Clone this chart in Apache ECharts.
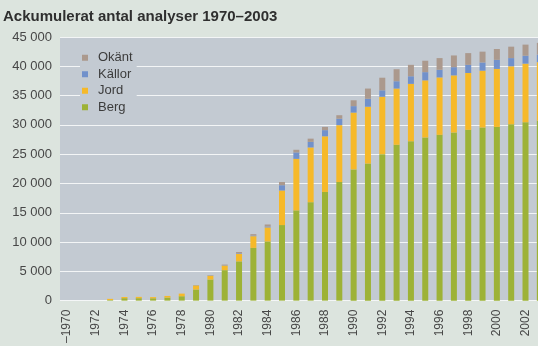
<!DOCTYPE html>
<html>
<head>
<meta charset="utf-8">
<script src="https://cdn.jsdelivr.net/npm/echarts@6/dist/echarts.min.js"></script>
<style>
  html, body { margin: 0; padding: 0; background: #dce4de; overflow: hidden; }
  #chart { width: 560px; height: 346px; }
</style>
</head>
<body>
<div id="chart"></div>
<script>
// Cumulative number of analyses per year, split by sample type
const years = ['–1970', '1971', '1972', '1973', '1974', '1975', '1976', '1977', '1978', '1979',
  '1980', '1981', '1982', '1983', '1984', '1985', '1986', '1987', '1988', '1989',
  '1990', '1991', '1992', '1993', '1994', '1995', '1996', '1997', '1998', '1999',
  '2000', '2001', '2002', '2003'];

const berg = [0, 0, 0, 100, 420, 420, 400, 520, 750, 1900,
  3600, 5200, 6700, 9000, 10100, 12900, 15400, 16800, 18550, 20250,
  22400, 23400, 25000, 26600, 27200, 27850, 28300, 28700, 29150, 29550,
  29650, 30100, 30450, 30700];

const jord = [0, 0, 0, 200, 200, 220, 200, 280, 450, 700,
  650, 800, 1300, 2000, 2400, 5900, 8800, 9350, 9500, 9700,
  9700, 9700, 9800, 9600, 9800, 9750, 9800, 9750, 9700, 9700,
  9900, 9900, 10000, 10000];

const kallor = [0, 0, 0, 0, 0, 0, 0, 0, 0, 30,
  50, 60, 100, 100, 150, 900, 1100, 950, 1050, 1100,
  1100, 1350, 1100, 1250, 1300, 1400, 1300, 1400, 1400, 1400,
  1550, 1400, 1350, 1300];

const okant = [0, 0, 0, 0, 0, 0, 0, 0, 0, 30,
  50, 90, 200, 250, 350, 550, 450, 550, 550, 600,
  1000, 1750, 2150, 2050, 1950, 1950, 2000, 2000, 2000, 1850,
  1850, 1950, 1900, 2000];

const yTicks = { min: 0, max: 45000, interval: 5000 };

const colors = { berg: '#9db236', jord: '#f6b929', kallor: '#7191cb', okant: '#ab998d' };

const chart = echarts.init(document.getElementById('chart'), null, { renderer: 'canvas' });

function stackSeries(name, data, color) {
  return {
    name: name,
    type: 'bar',
    stack: 'total',
    data: data,
    barWidth: 6,
    itemStyle: { color: color },
    emphasis: { disabled: true }
  };
}

chart.setOption({
  backgroundColor: '#dce4de',
  animation: false,
  textStyle: { fontFamily: 'Liberation Sans, Arial, sans-serif' },
  title: {
    text: 'Ackumulerat antal analyser 1970–2003',
    left: 3,
    top: 9,
    padding: 0,
    textStyle: { fontSize: 15, fontWeight: 'bold', color: '#2f2f2f', fontFamily: 'Liberation Sans, Arial, sans-serif' }
  },
  legend: {
    orient: 'vertical',
    left: 80,
    top: 49,
    padding: [2, 4, 2, 2],
    backgroundColor: '#c3cad2',
    itemWidth: 6,
    itemHeight: 6,
    itemGap: 3,
    icon: 'rect',
    data: ['Okänt', 'Källor', 'Jord', 'Berg'],
    textStyle: { fontSize: 13, color: '#3c3c3c', lineHeight: 13.5, padding: [0, 0, 0, 5] }
  },
  grid: {
    left: 60,
    top: 37,
    width: 487,
    bottom: 43,
    show: true,
    backgroundColor: '#c3cad2',
    borderWidth: 0,
    containLabel: false
  },
  xAxis: {
    type: 'category',
    data: years,
    axisLine: { show: false },
    axisTick: { show: false },
    axisLabel: {
      interval: 1,
      rotate: 90,
      margin: 9,
      fontSize: 12,
      color: '#474747'
    }
  },
  yAxis: {
    type: 'value',
    min: yTicks.min,
    max: yTicks.max,
    interval: yTicks.interval,
    axisLine: { show: false },
    axisTick: { show: false },
    splitLine: { lineStyle: { color: 'rgba(255,255,255,0.8)', width: 1 } },
    axisLabel: {
      margin: 8,
      fontSize: 13,
      color: '#474747',
      formatter: function (v) {
        return String(v).replace(/\B(?=(\d{3})+(?!\d))/g, ' ');
      }
    }
  },
  series: [
    stackSeries('Berg', berg, colors.berg),
    stackSeries('Jord', jord, colors.jord),
    stackSeries('Källor', kallor, colors.kallor),
    stackSeries('Okänt', okant, colors.okant)
  ]
});
</script>
</body>
</html>
